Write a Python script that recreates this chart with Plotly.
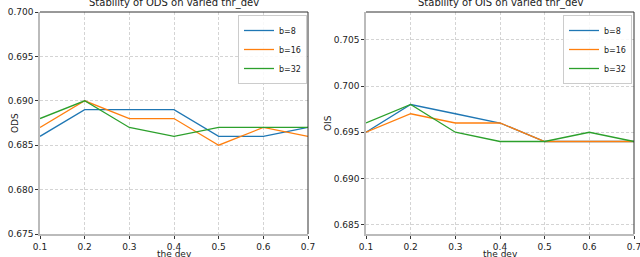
import plotly.graph_objects as go

thr_dev = [0.1, 0.2, 0.3, 0.4, 0.5, 0.6, 0.7]
series_names = ["b=8", "b=16", "b=32"]
colors = ["#1f77b4", "#ff7f0e", "#2ca02c"]

ods_b8 = [0.686, 0.689, 0.689, 0.689, 0.686, 0.686, 0.687]
ods_b16 = [0.687, 0.690, 0.688, 0.688, 0.685, 0.687, 0.686]
ods_b32 = [0.688, 0.690, 0.687, 0.686, 0.687, 0.687, 0.687]

ois_b8 = [0.695, 0.698, 0.697, 0.696, 0.694, 0.694, 0.694]
ois_b16 = [0.695, 0.697, 0.696, 0.696, 0.694, 0.694, 0.694]
ois_b32 = [0.696, 0.698, 0.695, 0.694, 0.694, 0.695, 0.694]

x_ticks = [0.1, 0.2, 0.3, 0.4, 0.5, 0.6, 0.7]
ods_ticks = [0.675, 0.680, 0.685, 0.690, 0.695, 0.700]
ois_ticks = [0.685, 0.690, 0.695, 0.700, 0.705]

FONT = "DejaVu Sans"
fig = go.Figure()

for name, col, ys in zip(series_names, colors, [ods_b8, ods_b16, ods_b32]):
    fig.add_trace(go.Scatter(x=thr_dev, y=ys, mode="lines", name=name,
                             line=dict(color=col, width=1.3),
                             xaxis="x", yaxis="y", legend="legend"))
for name, col, ys in zip(series_names, colors, [ois_b8, ois_b16, ois_b32]):
    fig.add_trace(go.Scatter(x=thr_dev, y=ys, mode="lines", name=name,
                             line=dict(color=col, width=1.3),
                             xaxis="x2", yaxis="y2", legend="legend2"))

W, H = 640, 257
top, bottom = 12, 234
yd = [1 - bottom / H, 1 - top / H]
xd1 = [40 / W, 308 / W]
xd2 = [366 / W, 634 / W]

axis_common = dict(showgrid=True, gridcolor="#d4d4d4", griddash="3px,2px", gridwidth=0.8,
                   ticks="outside", ticklen=3, tickcolor="#333", tickwidth=0.8,
                   showline=True, linecolor="#bbbbbb", linewidth=1.5,
                   automargin=False, ticklabeloverflow="allow",
                   zeroline=False, tickfont=dict(family=FONT, size=9, color="#222"))

leg_common = dict(xanchor="right", yanchor="top",
                  bgcolor="rgba(255,255,255,0.85)", bordercolor="#cccccc", borderwidth=1,
                  font=dict(family=FONT, size=8, color="#222"), tracegroupgap=0,
                  itemwidth=30)

fig.update_layout(
    width=W, height=H, margin=dict(l=0, r=0, t=0, b=0, autoexpand=False),
    paper_bgcolor="white", plot_bgcolor="white",
    font=dict(family=FONT, size=9, color="#222"),
    xaxis=dict(domain=xd1, range=[0.1, 0.7], tickvals=x_ticks, ticktext=[str(v) for v in x_ticks],
               anchor="y", **axis_common),
    yaxis=dict(domain=yd, range=[0.675, 0.700], tickvals=ods_ticks,
               ticktext=["%.3f" % v for v in ods_ticks], anchor="x", **axis_common),
    xaxis2=dict(domain=xd2, range=[0.1, 0.7], tickvals=x_ticks, ticktext=[str(v) for v in x_ticks],
                anchor="y2", **axis_common),
    yaxis2=dict(domain=yd, range=[0.684, 0.708], tickvals=ois_ticks,
                ticktext=["%.3f" % v for v in ois_ticks], anchor="x2", **axis_common),
    legend=dict(x=307 / W, y=1 - 15 / H, **leg_common),
    legend2=dict(x=632 / W, y=1 - 15 / H, **leg_common),
    showlegend=True,
)

# top and right spines (dark)
for xr, yr in [("x domain", "y domain"), ("x2 domain", "y2 domain")]:
    fig.add_shape(type="line", xref=xr, yref=yr, x0=0, x1=1, y0=1, y1=1,
                  line=dict(color="#333", width=1))
    fig.add_shape(type="line", xref=xr, yref=yr, x0=1, x1=1, y0=0, y1=1,
                  line=dict(color="#333", width=1))

ann = [
    dict(text="Stability of ODS on varied thr_dev", x=(xd1[0] + xd1[1]) / 2, y=1 - 3 / H, s=10),
    dict(text="Stability of OIS on varied thr_dev", x=(xd2[0] + xd2[1]) / 2, y=1 - 3 / H, s=10),
    dict(text="the dev", x=(xd1[0] + xd1[1]) / 2, y=1 - 254 / H, s=9),
    dict(text="the dev", x=(xd2[0] + xd2[1]) / 2, y=1 - 254 / H, s=9),
]
for a in ann:
    fig.add_annotation(text=a["text"], x=a["x"], y=a["y"], xref="paper", yref="paper",
                       showarrow=False, xanchor="center", yanchor="middle", borderpad=0,
                       font=dict(family=FONT, size=a["s"], color="#222"))
fig.add_annotation(text="ODS", x=8 / W, y=1 - 123 / H, xref="paper", yref="paper",
                   showarrow=False, textangle=-90, font=dict(family=FONT, size=9, color="#222"))
fig.add_annotation(text="OIS", x=328 / W, y=1 - 123 / H, xref="paper", yref="paper",
                   showarrow=False, textangle=-90, font=dict(family=FONT, size=9, color="#222"))

fig.write_html("out.html", config={"displayModeBar": False},
               post_script="document.body.style.margin='0px';document.body.style.overflow='hidden';")
